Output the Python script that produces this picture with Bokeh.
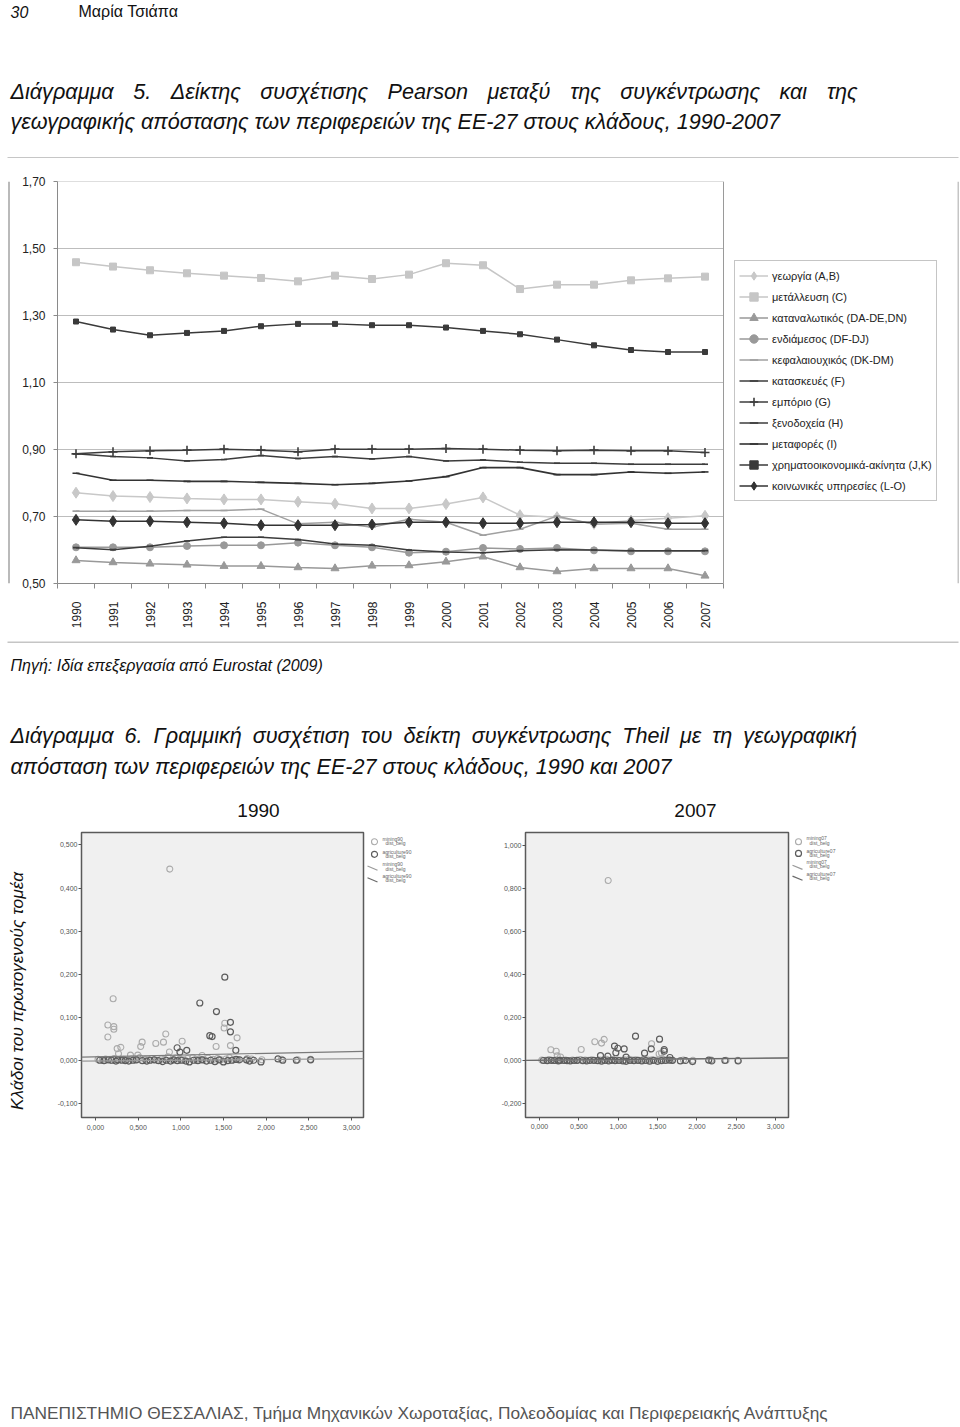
import glob
import os
import struct
import numpy as np
from bokeh.plotting import figure
from bokeh.models import (Range1d, Label, Legend, LegendItem, FixedTicker,
                          CustomJSTickFormatter, Span)
from bokeh.layouts import column, row
from bokeh.embed import file_html
from bokeh.resources import INLINE

FONT = "Liberation Sans"

# ---------------- chart 1 data (Pearson correlation, 1990-2007) ----------------
years = [str(y) for y in range(1990, 2008)]
y_ticks = [0.5, 0.7, 0.9, 1.1, 1.3, 1.5, 1.7]
y_tick_labels = ["0,50", "0,70", "0,90", "1,10", "1,30", "1,50", "1,70"]

agri_AB = [0.771, 0.761, 0.758, 0.754, 0.751, 0.751, 0.744, 0.738, 0.724, 0.724, 0.737, 0.757, 0.704, 0.698, 0.678, 0.688, 0.695, 0.702]
mining_C = [1.459, 1.446, 1.435, 1.426, 1.419, 1.412, 1.402, 1.419, 1.409, 1.422, 1.456, 1.450, 1.379, 1.392, 1.392, 1.405, 1.411, 1.416]
cons_DA = [0.569, 0.563, 0.559, 0.556, 0.552, 0.552, 0.548, 0.545, 0.553, 0.554, 0.565, 0.580, 0.548, 0.536, 0.545, 0.545, 0.545, 0.523]
inter_DF = [0.608, 0.608, 0.608, 0.612, 0.614, 0.614, 0.622, 0.614, 0.608, 0.592, 0.595, 0.606, 0.603, 0.606, 0.599, 0.596, 0.596, 0.596]
cap_DK = [0.716, 0.716, 0.716, 0.718, 0.718, 0.722, 0.678, 0.683, 0.668, 0.692, 0.683, 0.644, 0.662, 0.701, 0.677, 0.680, 0.662, 0.662]
constr_F = [0.887, 0.879, 0.875, 0.866, 0.870, 0.882, 0.873, 0.879, 0.872, 0.879, 0.866, 0.869, 0.862, 0.859, 0.859, 0.856, 0.856, 0.856]
trade_G = [0.887, 0.893, 0.896, 0.898, 0.901, 0.898, 0.893, 0.901, 0.901, 0.901, 0.903, 0.901, 0.898, 0.896, 0.898, 0.896, 0.896, 0.891]
hotels_H = [0.607, 0.601, 0.611, 0.627, 0.638, 0.638, 0.631, 0.618, 0.614, 0.600, 0.594, 0.592, 0.598, 0.601, 0.600, 0.598, 0.598, 0.598]
transport_I = [0.829, 0.808, 0.808, 0.805, 0.805, 0.802, 0.799, 0.795, 0.799, 0.806, 0.819, 0.846, 0.846, 0.825, 0.825, 0.833, 0.829, 0.833]
finance_JK = [1.282, 1.258, 1.241, 1.248, 1.254, 1.268, 1.275, 1.275, 1.271, 1.271, 1.264, 1.254, 1.244, 1.228, 1.211, 1.197, 1.191, 1.191]
social_LO = [0.690, 0.686, 0.686, 0.683, 0.680, 0.674, 0.674, 0.674, 0.676, 0.683, 0.683, 0.680, 0.680, 0.683, 0.683, 0.683, 0.680, 0.680]

series_names = ["γεωργία (A,B)", "μετάλλευση (C)", "καταναλωτικός (DA-DE,DN)",
                "ενδιάμεσος (DF-DJ)", "κεφαλαιουχικός (DK-DM)", "κατασκευές (F)",
                "εμπόριο (G)", "ξενοδοχεία (H)", "μεταφορές (I)",
                "χρηματοοικονομικά-ακίνητα (J,K)", "κοινωνικές υπηρεσίες (L-O)"]
series_values = [agri_AB, mining_C, cons_DA, inter_DF, cap_DK, constr_F,
                 trade_G, hotels_H, transport_I, finance_JK, social_LO]

# ---------------- chart 2 data (Theil vs distance) ----------------
x_ticks_sc = [0.0, 0.5, 1.0, 1.5, 2.0, 2.5, 3.0]
x_tick_labels_sc = ["0,000", "0,500", "1,000", "1,500", "2,000", "2,500", "3,000"]
y_ticks_90 = [-0.1, 0.0, 0.1, 0.2, 0.3, 0.4, 0.5]
y_tick_labels_90 = ["-0,100", "0,000", "0,100", "0,200", "0,300", "0,400", "0,500"]
y_ticks_07 = [-0.2, 0.0, 0.2, 0.4, 0.6, 0.8, 1.0]
y_tick_labels_07 = ["-0,200", "0,000", "0,200", "0,400", "0,600", "0,800", "1,000"]

mining90_x = [0.871, 0.207, 0.145, 0.215, 0.215, 0.145, 0.254, 0.297, 0.270, 0.547, 0.530, 0.707, 0.824, 0.797, 0.867, 1.016, 1.516, 1.508, 1.414, 1.582, 1.660, 0.410, 0.496, 1.250, 1.780,
              0.03, 0.08, 0.12, 0.18, 0.22, 0.28, 0.33, 0.36, 0.42, 0.47, 0.52, 0.58, 0.62, 0.66, 0.72, 0.77, 0.81, 0.85, 0.90, 0.94, 0.99, 1.03, 1.08, 1.14, 1.18, 1.22, 1.27, 1.32, 1.38, 1.43, 1.47, 1.53, 1.57, 1.62, 1.67, 1.83, 1.95, 2.18, 2.37, 2.52]
mining90_y = [0.444, 0.143, 0.082, 0.078, 0.072, 0.054, 0.027, 0.030, 0.015, 0.042, 0.032, 0.039, 0.061, 0.042, 0.019, 0.044, 0.086, 0.075, 0.032, 0.034, 0.052, 0.012, 0.012, 0.011, 0.004,
              0.002, 0.001, 0.003, 0.000, 0.004, 0.001, 0.002, 0.000, 0.003, 0.001, 0.006, 0.002, 0.001, 0.004, 0.000, 0.003, 0.002, 0.008, 0.001, 0.005, 0.002, 0.001, 0.004, 0.006, 0.002, 0.003, 0.001, 0.005, 0.002, 0.004, 0.001, 0.003, 0.006, 0.002, 0.001, 0.003, 0.001, 0.002, 0.001, 0.002]
agri90_x = [1.516, 1.223, 1.418, 1.582, 1.582, 1.340, 1.367, 1.645, 1.070, 0.957, 0.990, 2.140, 2.195, 2.355, 2.523, 1.805, 1.855, 1.940, 1.770,
            0.05, 0.10, 0.15, 0.19, 0.24, 0.26, 0.31, 0.35, 0.39, 0.44, 0.48, 0.55, 0.60, 0.64, 0.69, 0.74, 0.79, 0.83, 0.88, 0.92, 0.96, 1.01, 1.06, 1.10, 1.15, 1.20, 1.25, 1.30, 1.35, 1.40, 1.45, 1.50, 1.55, 1.60, 1.65, 1.69]
agri90_y = [0.193, 0.133, 0.113, 0.088, 0.066, 0.057, 0.055, 0.023, 0.023, 0.029, 0.019, 0.003, 0.000, 0.000, 0.001, -0.002, 0.000, -0.004, 0.001,
            0.000, -0.001, 0.001, 0.000, -0.002, 0.001, 0.000, -0.001, -0.002, 0.000, 0.001, -0.001, -0.002, 0.000, 0.001, -0.001, -0.003, 0.000, -0.002, 0.001, -0.001, 0.000, -0.002, -0.004, 0.000, -0.001, 0.001, -0.002, 0.000, -0.003, 0.001, -0.004, -0.001, 0.000, 0.002, 0.001]
mining07_x = [0.873, 0.144, 0.212, 0.225, 0.267, 0.530, 0.703, 0.788, 0.822, 1.424, 1.520, 1.550,
              0.03, 0.08, 0.12, 0.18, 0.22, 0.28, 0.33, 0.36, 0.42, 0.47, 0.52, 0.58, 0.62, 0.66, 0.72, 0.77, 0.81, 0.85, 0.90, 0.94, 0.99, 1.03, 1.08, 1.14, 1.18, 1.22, 1.27, 1.32, 1.38, 1.43, 1.47, 1.53, 1.57, 1.62, 1.67, 1.83, 1.95, 2.18, 2.37, 2.52]
mining07_y = [0.837, 0.050, 0.043, 0.022, 0.016, 0.051, 0.087, 0.081, 0.098, 0.078, 0.030, 0.035,
              0.002, 0.001, 0.004, 0.000, 0.003, 0.001, 0.002, 0.000, 0.002, 0.001, 0.004, 0.002, 0.001, 0.003, 0.000, 0.002, 0.002, 0.006, 0.001, 0.004, 0.002, 0.001, 0.003, 0.005, 0.002, 0.003, 0.001, 0.004, 0.002, 0.003, 0.001, 0.003, 0.005, 0.002, 0.001, 0.002, 0.001, 0.002, 0.001, 0.001]
agri07_x = [1.220, 1.525, 0.953, 0.996, 1.076, 0.970, 1.335, 1.420, 1.585, 1.585, 0.775, 0.869, 1.100, 1.657, 2.150, 2.190, 2.356, 2.525, 1.790, 1.856, 1.945,
            0.05, 0.10, 0.15, 0.19, 0.24, 0.26, 0.31, 0.35, 0.39, 0.44, 0.48, 0.55, 0.60, 0.64, 0.69, 0.74, 0.79, 0.83, 0.88, 0.92, 0.96, 1.01, 1.06, 1.10, 1.15, 1.20, 1.25, 1.30, 1.35, 1.40, 1.45, 1.50, 1.55, 1.60, 1.65, 1.69]
agri07_y = [0.113, 0.099, 0.067, 0.057, 0.054, 0.036, 0.034, 0.054, 0.051, 0.043, 0.023, 0.020, 0.016, 0.014, 0.002, -0.002, 0.000, -0.002, -0.002, 0.000, -0.005,
            0.000, -0.001, 0.001, 0.000, -0.002, 0.001, 0.000, -0.001, -0.002, 0.000, 0.001, -0.001, -0.002, 0.000, 0.001, -0.001, -0.003, 0.000, -0.002, 0.001, -0.001, 0.000, -0.002, -0.004, 0.000, -0.001, 0.001, -0.002, 0.000, -0.003, 0.001, -0.004, -0.001, 0.000, 0.002, 0.001]

# linear fits (intercept, slope)
fit_mining90 = (-0.0017, 0.0017)
fit_agri90 = (0.0079, 0.0041)
fit_mining07 = (0.0005, 0.0032)
fit_agri07 = (0.0010, 0.0036)

LIGHT = "#ababab"
DARK = "#5c5c5c"
BOX = "#8c8c8c"

# ---------------- page texts ----------------
title5_line1 = "Διάγραμμα 5. Δείκτης συσχέτισης Pearson μεταξύ της συγκέντρωσης και της"
title5_line2 = "γεωγραφικής απόστασης των περιφερειών της ΕΕ-27 στους κλάδους, 1990-2007"
title6_line1 = "Διάγραμμα 6. Γραμμική συσχέτιση του δείκτη συγκέντρωσης Theil με τη γεωγραφική"
title6_line2 = "απόσταση των περιφερειών της ΕΕ-27 στους κλάδους, 1990 και 2007"
source_text = "Πηγή: Ιδία επεξεργασία από Eurostat (2009)"
ylabel_text = "Κλάδοι του πρωτογενούς τομέα"
footer_text = "ΠΑΝΕΠΙΣΤΗΜΙΟ ΘΕΣΣΑΛΙΑΣ, Τμήμα Μηχανικών Χωροταξίας, Πολεοδομίας και Περιφερειακής Ανάπτυξης"


# ---------- tiny TrueType advance-width reader (for justified text) ----------
def find_font(name):
    for base in ["/usr/share/fonts", "/usr/local/share/fonts", os.path.expanduser("~/.fonts")]:
        hits = glob.glob(os.path.join(base, "**", name), recursive=True)
        if hits:
            return hits[0]
    return None


class Metrics:
    def __init__(self, path, fallback=0.55):
        self.ok = False
        self.fallback = fallback
        if not path:
            return
        try:
            data = open(path, "rb").read()
            num = struct.unpack(">H", data[4:6])[0]
            tables = {}
            for i in range(num):
                tag, _, off, ln = struct.unpack(">4sIII", data[12 + 16 * i: 28 + 16 * i])
                tables[tag.decode("latin-1")] = (off, ln)
            ho = tables["head"][0]
            self.upem = struct.unpack(">H", data[ho + 18:ho + 20])[0]
            hh = tables["hhea"][0]
            nh = struct.unpack(">H", data[hh + 34:hh + 36])[0]
            hm = tables["hmtx"][0]
            self.adv = [struct.unpack(">H", data[hm + 4 * i:hm + 4 * i + 2])[0] for i in range(nh)]
            co = tables["cmap"][0]
            nsub = struct.unpack(">H", data[co + 2:co + 4])[0]
            sub = None
            for i in range(nsub):
                pid, eid, so = struct.unpack(">HHI", data[co + 4 + 8 * i: co + 12 + 8 * i])
                if pid == 3 and eid == 1:
                    sub = co + so
            if struct.unpack(">H", data[sub:sub + 2])[0] != 4:
                return
            segx2 = struct.unpack(">H", data[sub + 6:sub + 8])[0]
            seg = segx2 // 2
            ends = struct.unpack(f">{seg}H", data[sub + 14: sub + 14 + segx2])
            so_ = sub + 16 + segx2
            starts = struct.unpack(f">{seg}H", data[so_: so_ + segx2])
            do_ = so_ + segx2
            deltas = struct.unpack(f">{seg}h", data[do_: do_ + segx2])
            ro_ = do_ + segx2
            ros = struct.unpack(f">{seg}H", data[ro_: ro_ + segx2])
            self._cm = (ends, starts, deltas, ros, ro_, data)
            self.ok = True
        except Exception:
            self.ok = False

    def gid(self, ch):
        ends, starts, deltas, ros, ro_, data = self._cm
        c = ord(ch)
        for i, e in enumerate(ends):
            if c <= e:
                if c < starts[i]:
                    return 0
                if ros[i] == 0:
                    return (c + deltas[i]) & 0xFFFF
                addr = ro_ + 2 * i + ros[i] + 2 * (c - starts[i])
                g = struct.unpack(">H", data[addr:addr + 2])[0]
                return (g + deltas[i]) & 0xFFFF if g else 0
        return 0

    def width(self, s, size):
        if not self.ok:
            return len(s) * self.fallback * size
        tot = 0
        for ch in s:
            g = self.gid(ch)
            tot += self.adv[min(g, len(self.adv) - 1)]
        return tot * size / self.upem


MI = Metrics(find_font("LiberationSans-Italic.ttf"))
MR = Metrics(find_font("LiberationSans-Regular.ttf"))


def fmt(tick_vals, tick_texts):
    return CustomJSTickFormatter(args=dict(tv=list(tick_vals), tl=list(tick_texts)), code="""
const i = tv.findIndex(t => Math.abs(t - tick) < 1e-6);
return i >= 0 ? tl[i] : "";
""")


def text_fig(left, top, w, h):
    p = figure(width=w, height=h, x_range=Range1d(left, left + w), y_range=Range1d(top + h, top),
               x_axis_type=None, y_axis_type=None, toolbar_location=None, output_backend="svg",
               min_border=0, outline_line_color=None)
    return p


def put(p, x, y, s, size, style="normal", color="#111111", align="left",
        baseline="middle", angle=0.0, font=FONT):
    p.add_layout(Label(x=x, y=y, text=s, text_font=font, text_font_size=f"{size:.2f}px",
                       text_font_style=style, text_color=color, text_align=align,
                       text_baseline=baseline, angle=angle))


def justify(p, line, y, size, x0, x1, style="italic"):
    words = line.split(" ")
    m = MI if style == "italic" else MR
    ws = [m.width(w, size) for w in words]
    gap = (x1 - x0 - sum(ws)) / (len(words) - 1)
    x = x0
    for w, wd in zip(words, ws):
        put(p, x, y, w, size, style)
        x += wd + gap


# font size of the two caption paragraphs, from the width of their last lines
TITLE_SIZE = 0.5 * (772 / MI.width(title5_line2, 1.0) + 662 / MI.width(title6_line2, 1.0))

# ---------------- header (page y 0-158) ----------------
head = text_fig(0, 0, 960, 158)
put(head, 10, 11, "30", 16, "italic")
put(head, 78, 11, "Μαρία Τσιάπα", 16)
justify(head, title5_line1, 91, TITLE_SIZE, 10, 857)
put(head, 10, 121, title5_line2, TITLE_SIZE, "italic")
head.line([7, 958], [157.5, 157.5], line_color=BOX, line_width=1)   # top edge of the chart box

# ---------------- chart 1 (page y 158-641, x 12-957) ----------------
# The frame runs from page x 57 to the right edge so that the legend can sit inside it;
# the data area proper is x in [0, 18] (page x 57 -> 723).
n_years = len(years)
x_c = [i + 0.5 for i in range(n_years)]
DATA_W = 666.0
P1_LEFT = 12
FRAME_W = 957 - 57
x_end = n_years * FRAME_W / DATA_W
p1 = figure(width=957 - P1_LEFT, height=483, x_range=Range1d(0, x_end), y_range=Range1d(0.5, 1.7),
            toolbar_location=None, output_backend="svg",
            min_border_left=57 - P1_LEFT, min_border_right=0, min_border_top=23, min_border_bottom=58)
p1.outline_line_color = None
p1.grid.visible = False
# horizontal grid lines over the data area only, at the y ticks
p1.segment(x0=[0] * len(y_ticks), x1=[n_years] * len(y_ticks), y0=y_ticks, y1=y_ticks,
           line_color="#bdbdbd", line_width=1)
p1.add_layout(Span(location=n_years, dimension="height", line_color="#9a9a9a", line_width=1))
yt = FixedTicker(ticks=y_ticks)
p1.yaxis.ticker = yt
p1.yaxis.formatter = fmt(y_ticks, y_tick_labels)
p1.yaxis.major_tick_out = 4
p1.yaxis.major_tick_in = 0
p1.yaxis.major_label_standoff = 8
xt = FixedTicker(ticks=x_c, minor_ticks=list(range(n_years + 1)))
p1.xaxis.ticker = xt
p1.xaxis.bounds = (0, n_years)
p1.xaxis.formatter = fmt(x_c, years)
p1.xaxis.major_tick_out = 0
p1.xaxis.major_tick_in = 0
p1.xaxis.minor_tick_out = 5
p1.xaxis.minor_tick_in = 0
p1.xaxis.major_label_orientation = np.pi / 2
p1.xaxis.major_label_standoff = 13
for ax in (p1.xaxis, p1.yaxis):
    ax.axis_line_color = "#8a8a8a"
    ax.major_tick_line_color = "#8a8a8a"
    ax.minor_tick_line_color = "#8a8a8a"
    ax.major_label_text_font = FONT
    ax.major_label_text_font_size = "12px"
    ax.major_label_text_color = "#222222"
p1.yaxis.minor_tick_line_color = None

styles1 = [
    dict(color="#c8c8c8", marker="diamond", size=11, lw=1.5),
    dict(color="#c6c6c6", marker="square", size=7, lw=1.5),
    dict(color="#999999", marker="triangle", size=8, lw=1.5),
    dict(color="#999999", marker="circle", size=7, lw=1.5),
    dict(color="#a0a0a0", marker="dash", size=7, lw=1.5),
    dict(color="#3c3c3c", marker="dash", size=6, lw=1.5),
    dict(color="#3c3c3c", marker="cross", size=9, lw=1.5),
    dict(color="#3c3c3c", marker="dash", size=6, lw=1.5),
    dict(color="#333333", marker="dash", size=7, lw=1.6),
    dict(color="#3a3a3a", marker="square", size=5, lw=1.5),
    dict(color="#333333", marker="diamond", size=11, lw=1.5),
]
items = []
for name, vals, st in zip(series_names, series_values, styles1):
    rl = p1.line(x_c, vals, line_color=st["color"], line_width=st["lw"])
    mlw = 1.6 if st["marker"] in ("dash", "cross") else 1
    rm = p1.scatter(x_c, vals, marker=st["marker"], size=st["size"], fill_color=st["color"],
                    line_color=st["color"], line_width=mlw)
    items.append(LegendItem(label=name, renderers=[rl, rm]))
legend = Legend(items=items, location=(677, 82), border_line_color=BOX,
                label_text_font=FONT, label_text_font_size="11px", label_text_color="#222222",
                glyph_width=29, glyph_height=21, label_height=21, spacing=0, padding=4,
                margin=0, label_standoff=4)
p1.add_layout(legend)

# left and right edges of the chart box (drawn in thin strips beside the chart)
edge_l = text_fig(0, 158, P1_LEFT, 483)
edge_l.line([8.5, 8.5], [158, 641], line_color=BOX, line_width=1.2)
edge_r = text_fig(957, 158, 3, 483)
edge_r.line([957.5, 957.5], [158, 641], line_color=BOX, line_width=1)

# ---------------- middle texts (page y 641-828) ----------------
mid = text_fig(0, 641, 960, 187)
mid.line([7, 958], [641.5, 641.5], line_color=BOX, line_width=1)    # bottom edge of the chart box
src_size = min(16.0, 332 / MI.width(source_text, 1.0))
put(mid, 10, 665, source_text, src_size, "italic")
justify(mid, title6_line1, 735, TITLE_SIZE, 10, 857)
put(mid, 10, 766, title6_line2, TITLE_SIZE, "italic")
put(mid, 258, 810, "1990", 19, align="center")
put(mid, 695, 810, "2007", 19, align="center")

# ---------------- scatter row (page y 828-1168) ----------------
lab = text_fig(0, 828, 50, 340)
ylab_size = min(18.0, 240 / MI.width(ylabel_text, 1.0))
put(lab, 16, 1017, ylabel_text, ylab_size, "italic", align="center",
    baseline="middle", angle=np.pi / 2)


def scatter_fig(w, xr, yr, mbl, mbr, mbt, mbb, yt_, ytl_, xstand):
    p = figure(width=w, height=340, x_range=Range1d(*xr), y_range=Range1d(*yr),
               toolbar_location=None, output_backend="svg",
               min_border_left=mbl, min_border_right=mbr, min_border_top=mbt, min_border_bottom=mbb)
    p.background_fill_color = "#f0f0f0"
    p.outline_line_color = "#5a5a5a"
    p.outline_line_width = 1.5
    p.grid.visible = False
    xtk = FixedTicker(ticks=x_ticks_sc)
    ytk = FixedTicker(ticks=yt_)
    p.xaxis.ticker = xtk
    p.yaxis.ticker = ytk
    p.xaxis.formatter = fmt(x_ticks_sc, x_tick_labels_sc)
    p.yaxis.formatter = fmt(yt_, ytl_)
    for ax in (p.xaxis, p.yaxis):
        ax.axis_line_color = None
        ax.major_tick_line_color = "#555555"
        ax.minor_tick_line_color = None
        ax.major_tick_out = 3
        ax.major_tick_in = 0
        ax.major_label_text_font = FONT
        ax.major_label_text_font_size = "7px"
        ax.major_label_text_color = "#555555"
    p.yaxis.major_label_standoff = 1
    p.xaxis.major_label_standoff = xstand
    return p


s1 = scatter_fig(315, (-0.164, 3.142), (-0.133, 0.529), 31, 2, 4, 28,
                 y_ticks_90, y_tick_labels_90, 4)
s1.scatter(mining90_x, mining90_y, marker="circle", size=6, fill_color=None,
           line_color=LIGHT, line_width=1.1)
s1.scatter(agri90_x, agri90_y, marker="circle", size=6, fill_color=None,
           line_color=DARK, line_width=1.2)
xs1 = [-0.164, 3.142]
s1.line(xs1, [fit_mining90[0] + fit_mining90[1] * v for v in xs1], line_color="#9a9a9a", line_width=1.2)
s1.line(xs1, [fit_agri90[0] + fit_agri90[1] * v for v in xs1], line_color="#7a7a7a", line_width=1.2)

s2 = scatter_fig(300, (-0.178, 3.164), (-0.265, 1.060), 35, 2, 4, 51,
                 y_ticks_07, y_tick_labels_07, 3)
s2.scatter(mining07_x, mining07_y, marker="circle", size=6, fill_color=None,
           line_color=LIGHT, line_width=1.1)
s2.scatter(agri07_x, agri07_y, marker="circle", size=6, fill_color=None,
           line_color=DARK, line_width=1.2)
xs2 = [-0.178, 3.164]
s2.line(xs2, [fit_mining07[0] + fit_mining07[1] * v for v in xs2], line_color="#9a9a9a", line_width=1.2)
s2.line(xs2, [fit_agri07[0] + fit_agri07[1] * v for v in xs2], line_color="#6a6a6a", line_width=1.2)


def side_legend(left, w, names, circ_x, circ_ys, line_x0, line_ys, text_x, text_ys):
    p = text_fig(left, 828, w, 340)
    p.scatter([circ_x], [circ_ys[0]], marker="circle", size=6, fill_color=None, line_color=LIGHT, line_width=1.1)
    p.scatter([circ_x], [circ_ys[1]], marker="circle", size=6, fill_color=None, line_color=DARK, line_width=1.2)
    p.line([line_x0, line_x0 + 10], [line_ys[0], line_ys[0] + 5], line_color="#9a9a9a", line_width=1.2)
    p.line([line_x0, line_x0 + 10], [line_ys[1], line_ys[1] + 5], line_color="#6a6a6a", line_width=1.2)
    for nm, ty in zip(names, text_ys):
        put(p, text_x, ty, nm, 5, color="#666666")
        put(p, text_x + 3, ty + 5, "dist_belg", 5, color="#666666")
    return p


leg1 = side_legend(365, 125, ["mining90", "agriculture90", "mining90", "agriculture90"],
                   374, [839, 854], 367, [868, 882], 382, [836, 851, 866, 880])
leg2 = side_legend(790, 170, ["mining07", "agriculture07", "mining07", "agriculture07"],
                   798, [839, 853], 792, [867, 880], 806, [835, 850, 863, 877])

# ---------------- footer (page y 1168-1427) ----------------
foot = text_fig(0, 1168, 960, 259)
foot_size = min(18.0, 822 / MR.width(footer_text, 1.0))
put(foot, 10, 1412, footer_text, foot_size, color="#555555")

layout = column(head,
                row(edge_l, p1, edge_r),
                mid,
                row(lab, s1, leg1, s2, leg2),
                foot)
open("out.html", "w").write(file_html(layout, INLINE))
